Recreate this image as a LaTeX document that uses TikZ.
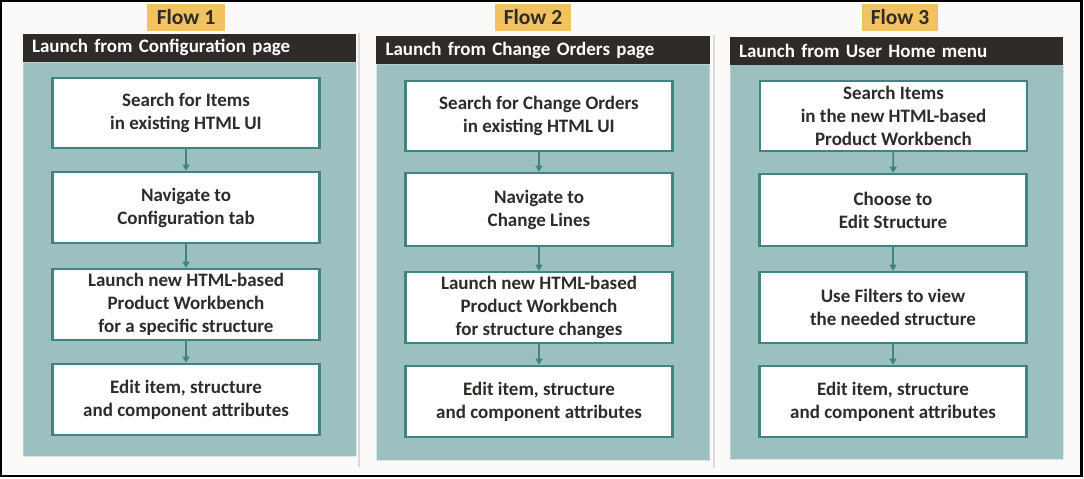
\documentclass[tikz,border=0pt]{standalone}
\usepackage{fontspec}
\setmainfont{Carlito}
\usetikzlibrary{arrows.meta}
\definecolor{bgc}{HTML}{FBFAF8}
\definecolor{panelc}{HTML}{9BC0BF}
\definecolor{panelline}{HTML}{C9DCDB}
\definecolor{boxline}{HTML}{3F8482}
\definecolor{headc}{HTML}{2F2B28}
\definecolor{flowc}{HTML}{F2C160}
\definecolor{sepc}{HTML}{D9D9D9}
\tikzset{
  flowlabel/.style={fill=flowc, draw=none, minimum width=78pt, minimum height=27pt, inner sep=0pt, font=\bfseries\fontsize{21.5}{24}\selectfont, text=headc},
  headbar/.style={fill=headc, draw=none, minimum width=333pt, minimum height=28pt, inner xsep=9pt, inner ysep=0pt, text width=315pt, align=left, text=white, font=\bfseries\fontsize{19}{21}\selectfont},
  panelbox/.style={fill=panelc, draw=panelline, densely dotted, line width=0.6pt, minimum width=333pt, inner sep=0pt},
  stepbox/.style={fill=white, draw=boxline, line width=2.6pt, minimum width=267pt, minimum height=70pt, inner sep=0pt, align=center, text=headc, font=\bfseries\fontsize{19}{23}\selectfont},
  flowarrow/.style={draw=boxline, line width=1.8pt, -{Triangle[length=6pt,width=7pt]}},
  sepline/.style={draw=sepc, line width=2.5pt}
}
\begin{document}
\begin{tikzpicture}[x=1pt,y=-1pt]
\useasboundingbox (0,0) rectangle (1084,479);
\fill[bgc] (0,0) rectangle (1084,479);
\draw[black, line width=2.2pt] (1.2,1.2) rectangle (1081.5,476);

% separators
\coordinate (s1t) at (359,33); \coordinate (s1b) at (359,467);
\coordinate (s2t) at (714,35); \coordinate (s2b) at (714,468);
\draw[sepline] (s1t) -- (s1b);
\draw[sepline] (s2t) -- (s2b);

% ---------- Flow 1 ----------
\node[panelbox, minimum height=394pt] (p1) at (189.5,259) {};
\node[headbar] (h1) at (189.5,47.5) {Launch from Configuration page};
\node[flowlabel] (f1) at (186,17.5) {Flow 1};
\node[stepbox] (a1) at (186,113) {Search for Items\\in existing HTML UI};
\node[stepbox, minimum height=71pt] (a2) at (186,207.5) {Navigate to\\Configuration tab};
\node[stepbox, minimum height=71pt] (a3) at (186,304.5) {Launch new HTML-based\\Product Workbench\\for a specific structure};
\node[stepbox, minimum height=71pt] (a4) at (186,399.5) {Edit item, structure\\and component attributes};
\draw[flowarrow] (a1) -- (a2);
\draw[flowarrow] (a2) -- (a3);
\draw[flowarrow] (a3) -- (a4);

% ---------- Flow 2 ----------
\node[panelbox, minimum height=396pt] (p2) at (543,262) {};
\node[headbar, minimum width=334pt] (h2) at (543,50) {Launch from Change Orders page};
\node[flowlabel, minimum width=76pt] (f2) at (533,17.5) {Flow 2};
\node[stepbox] (b1) at (539,116) {Search for Change Orders\\in existing HTML UI};
\node[stepbox, minimum height=73pt] (b2) at (539,209.5) {Navigate to\\Change Lines};
\node[stepbox, minimum height=71pt] (b3) at (539,307.5) {Launch new HTML-based\\Product Workbench\\for structure changes};
\node[stepbox, minimum height=71pt] (b4) at (539,401.5) {Edit item, structure\\and component attributes};
\draw[flowarrow] (b1) -- (b2);
\draw[flowarrow] (b2) -- (b3);
\draw[flowarrow] (b3) -- (b4);

% ---------- Flow 3 ----------
\node[panelbox, minimum height=395pt] (p3) at (896.5,261.5) {};
\node[headbar] (h3) at (896.5,50.5) {Launch from User Home menu};
\node[flowlabel, minimum width=76pt] (f3) at (900,17.5) {Flow 3};
\node[stepbox] (c1) at (893.5,116) {Search Items\\in the new HTML-based\\Product Workbench};
\node[stepbox, minimum height=72pt] (c2) at (893,210) {Choose to\\Edit Structure};
\node[stepbox, minimum height=71pt] (c3) at (893,307.5) {Use Filters to view\\the needed structure};
\node[stepbox, minimum height=71pt] (c4) at (893,401.5) {Edit item, structure\\and component attributes};
\draw[flowarrow] (c1) -- (c2);
\draw[flowarrow] (c2) -- (c3);
\draw[flowarrow] (c3) -- (c4);
\end{tikzpicture}
\end{document}
